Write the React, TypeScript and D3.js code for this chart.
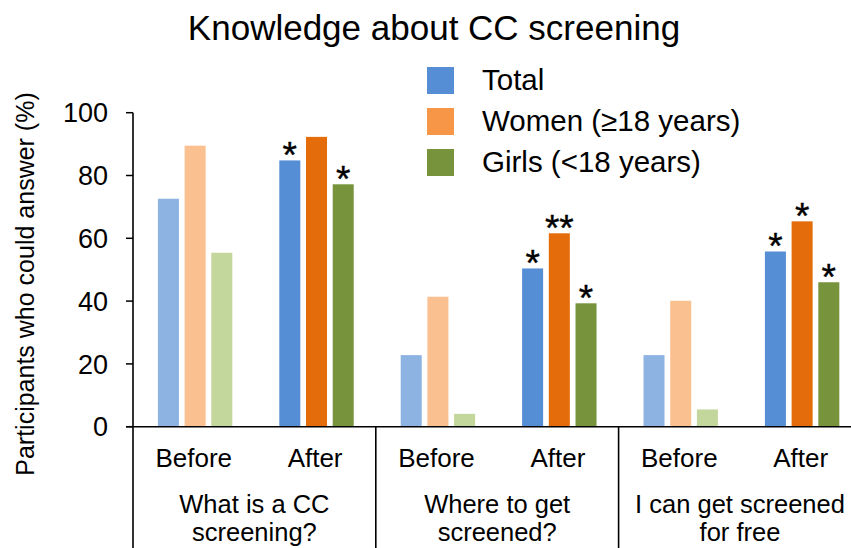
import React from "react";
import * as d3 from "d3";

const title = "Knowledge about CC screening";
const yLabel = "Participants who could answer (%)";
const questions = ["What is a CC\nscreening?", "Where to get\nscreened?", "I can get screened\nfor free"];
const phases = ["Before", "After"];
const seriesNames = ["Total", "Women (\u226518 years)", "Girls (<18 years)"];
// values per slot: [Q1 Before, Q1 After, Q2 Before, Q2 After, Q3 Before, Q3 After]
const totalValues = [72.6, 84.8, 22.8, 50.4, 22.8, 55.8];
const womenValues = [89.5, 92.3, 41.4, 61.6, 40.1, 65.4];
const girlsValues = [55.4, 77.2, 4.1, 39.3, 5.5, 46.0];
const totalSig = ["", "*", "", "*", "", "*"];
const womenSig = ["", "", "", "**", "", "*"];
const girlsSig = ["", "*", "", "*", "", "*"];
const yTicks = [0, 20, 40, 60, 80, 100];

const beforeColors = ["#8DB3E2", "#FAC08F", "#C3D69B"];
const afterColors = ["#558ED5", "#E46C0A", "#77933C"];
const legendColors = ["#558ED5", "#F79646", "#77933C"];

const FONT = "'Liberation Sans', Arial, sans-serif";

export default function App() {
  const W = 851, H = 548;
  const x0 = 133;
  const slotW = 121.4;
  const slots = d3.range(questions.length * phases.length);
  const xSlot = d3.scaleBand<number>().domain(slots).range([x0, x0 + slotW * slots.length]).padding(0);
  const xInner = d3.scaleBand<number>().domain([0, 1, 2]).range([0, xSlot.bandwidth()])
    .paddingInner(0.213).paddingOuter(0.88).align(0.53);
  const y = d3.scaleLinear().domain([0, 100]).range([426.7, 112.7]);
  const series = [totalValues, womenValues, girlsValues];
  const sigs = [totalSig, womenSig, girlsSig];
  const yBase = y(0);

  const bars: React.ReactNode[] = [];
  const stars: React.ReactNode[] = [];
  slots.forEach((s) => {
    const isAfter = s % 2 === 1;
    series.forEach((vals, k) => {
      const bx = (xSlot(s) as number) + (xInner(k) as number);
      const bw = xInner.bandwidth();
      const top = y(vals[s]);
      bars.push(
        <rect key={`b${s}-${k}`} x={bx} y={top} width={bw} height={yBase - top}
          fill={isAfter ? afterColors[k] : beforeColors[k]} />
      );
      const sg = sigs[k][s];
      if (sg) {
        stars.push(
          <text key={`s${s}-${k}`} x={bx + bw / 2} y={top + 8} textAnchor="middle"
            fontSize={37} fontFamily={FONT} fill="#000" stroke="#000" strokeWidth={0.4}>{sg}</text>
        );
      }
    });
  });

  return (
    <svg width={W} height={H} style={{ position: "absolute", left: 0, top: 0, background: "#fff" }}>
      <rect x={0} y={0} width={W} height={H} fill="#fff" />
      <text x={434} y={40} textAnchor="middle" fontSize={35} fontFamily={FONT} fill="#000">{title}</text>

      {/* legend */}
      {seriesNames.map((n, i) => (
        <g key={n}>
          <rect x={427} y={67 + i * 41} width={27} height={27} fill={legendColors[i]} />
          <text x={482} y={90 + i * 41} fontSize={29.5} fontFamily={FONT} fill="#000">{n}</text>
        </g>
      ))}

      {/* y axis title */}
      <text transform={`translate(33.5,284) rotate(-90)`} textAnchor="middle" fontSize={25}
        fontFamily={FONT} fill="#000">{yLabel}</text>

      {/* y ticks */}
      {yTicks.map((t) => (
        <g key={t}>
          <line x1={126} x2={x0} y1={y(t)} y2={y(t)} stroke="#000" strokeWidth={1.5} />
          <text x={108} y={y(t) + 9.7} textAnchor="end" fontSize={27} fontFamily={FONT} fill="#000">{t}</text>
        </g>
      ))}

      {bars}
      {stars}

      {/* axes */}
      <line x1={x0} x2={x0} y1={y(100)} y2={H} stroke="#000" strokeWidth={1.6} />
      <line x1={126} x2={W} y1={yBase} y2={yBase} stroke="#000" strokeWidth={1.6} />
      {questions.map((q, qi) => {
        const xs = xSlot(qi * 2) as number;
        return qi === 0 ? null : (
          <line key={`sep${qi}`} x1={xs} x2={xs} y1={yBase} y2={H} stroke="#000" strokeWidth={1.6} />
        );
      })}

      {/* phase labels */}
      {slots.map((s) => (
        <text key={`p${s}`} x={(xSlot(s) as number) + xSlot.bandwidth() / 2} y={466.7} textAnchor="middle"
          fontSize={26} fontFamily={FONT} fill="#000">{phases[s % 2]}</text>
      ))}

      {/* question labels */}
      {questions.map((q, qi) => {
        const cx = (xSlot(qi * 2) as number) + xSlot.bandwidth();
        return q.split("\n").map((line, li) => (
          <text key={`q${qi}-${li}`} x={cx} y={513 + li * 28} textAnchor="middle" fontSize={25.5}
            fontFamily={FONT} fill="#000">{line}</text>
        ));
      })}
    </svg>
  );
}
